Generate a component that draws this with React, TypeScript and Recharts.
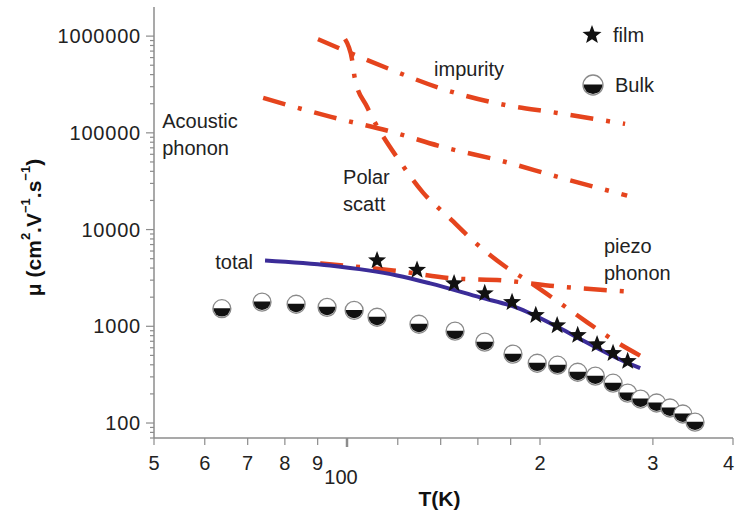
import React from "react";
import {
  ComposedChart,
  Line,
  Scatter,
  XAxis,
  YAxis,
  Legend,
  ReferenceDot,
  Label,
} from "recharts";

// values: temperature T (K) and mobility mu (cm2/V.s)
const bulkT = [63.8, 73.7, 83.3, 93.1, 102.6, 111.4, 129.5, 147.4, 164, 181.5, 198, 213, 229, 244, 260, 274, 287, 304, 319, 334, 349];
const bulkMu = [1520, 1780, 1690, 1570, 1460, 1240, 1050, 890, 685, 515, 415, 396, 335, 305, 258, 204, 177, 161, 143, 124, 102];

const filmT = [111.4, 128.6, 146.9, 164, 180.9, 197, 212.7, 229, 245.5, 260, 274];
const filmMu = [4790, 3820, 2770, 2190, 1770, 1300, 1020, 810, 650, 527, 436];

const totalT = [74.5, 94.1, 119.7, 134.8, 161.3, 183.5, 215, 233, 264, 286.6];
const totalMu = [4790, 4250, 3355, 2774, 1990, 1570, 953, 717, 468, 369];

const acousticT = [74, 94.4, 115.9, 142.7, 173.9, 212.7, 273.5];
const acousticMu = [229500, 146200, 104900, 70000, 51400, 35200, 22400];

const impurityT = [90.1, 115.4, 141, 173, 212.7, 271.5];
const impurityMu = [931000, 468000, 284000, 199000, 160700, 123800];

const polarT = [99.3, 101.8, 102.9, 107.5, 121.9, 131.4, 144.3, 157.8, 176.5, 193, 213, 237, 262, 289.5];
const polarMu = [931000, 579000, 360000, 185000, 46800, 24100, 13300, 7520, 4150, 2840, 1810, 1100, 700, 479];

const piezoT = [90.8, 118, 146.9, 175, 212.7, 273.5];
const piezoMu = [4460, 3780, 3125, 2980, 2585, 2295];

// tick marks
const xTicks = [50, 60, 70, 80, 90, 100, 120, 140, 160, 180, 200, 300, 400];
const xTickLabels: Record<number, string> = { 50: "5", 60: "6", 70: "7", 80: "8", 90: "9", 100: "100", 200: "2", 300: "3", 400: "4" };
const yMajor = [100, 1000, 10000, 100000, 1000000];
const yMinorSteps = [2, 3, 4, 5, 6, 7, 8, 9];
const yTicks = [70, 80, 90, ...yMajor, ...yMajor.slice(0, 4).flatMap((d) => yMinorSteps.map((s) => d * s))];

// annotations: [T, mu, lines]
const notes: [number, number, string[]][] = [
  [136.7, 457000, ["impurity"]],
  [51.5, 133000, ["Acoustic", "phonon"]],
  [98.6, 35200, ["Polar", "scatt"]],
  [62.3, 4570, ["total"]],
  [251.6, 6840, ["piezo", "phonon"]],
];

const pts = (T: number[], mu: number[]) => T.map((t, i) => ({ T: t, mu: mu[i] }));

const FONT = "'Liberation Sans', Arial, sans-serif";
const AXIS = "#8c8c8c";
const RED = "#e5441d";
const NAVY = "#3b2c98";
const DASH = "23 13 4 13";

const starPoints = (cx: number, cy: number, R: number, r: number) => {
  const p: string[] = [];
  for (let i = 0; i < 10; i++) {
    const a = -Math.PI / 2 + (i * Math.PI) / 5;
    const rad = i % 2 === 0 ? R : r;
    p.push(`${cx + rad * Math.cos(a)},${cy + rad * Math.sin(a)}`);
  }
  return p.join(" ");
};

const Star = ({ cx, cy, R = 9.5 }: any) => (
  <polygon points={starPoints(cx, cy, R, R * 0.42)} fill="#111" />
);

const Bulk = ({ cx, cy, r = 9 }: any) => (
  <g>
    <circle cx={cx} cy={cy} r={r} fill="#fff" stroke="#8a8a8a" strokeWidth={1.3} />
    <path d={`M${cx - r + 0.6},${cy - 0.5} A${r - 0.6},${r - 0.6} 0 0 0 ${cx + r - 0.6},${cy - 0.5} Z`} fill="#111" />
  </g>
);

const YTick = ({ x, y, payload }: any) => {
  const major = yMajor.includes(payload.value);
  return (
    <g>
      <line x1={x - (major ? 8 : 4)} x2={x} y1={y} y2={y} stroke={AXIS} strokeWidth={1.2} />
      {major && (
        <text x={x - 13} y={y} textAnchor="end" dominantBaseline="central" fontSize={20} fill="#222" fontFamily={FONT} letterSpacing={0.8}>
          {payload.value}
        </text>
      )}
    </g>
  );
};

const XTick = ({ x, y, payload }: any) => {
  const label = xTickLabels[payload.value];
  const hundred = payload.value === 100;
  const last = payload.value === 400;
  return (
    <g>
      <line x1={x} x2={x} y1={y} y2={y + (hundred ? 9 : 7)} stroke={AXIS} strokeWidth={hundred ? 2.5 : 1.2} />
      {label && (
        <text
          x={hundred ? x - 6 : last ? x + 1 : x}
          y={y + (hundred ? 39 : 25)}
          textAnchor={last ? "end" : "middle"}
          dominantBaseline="central"
          fontSize={20}
          fill="#222"
          fontFamily={FONT}
        >
          {label}
        </text>
      )}
    </g>
  );
};

const YTitle = ({ viewBox }: any) => {
  const cx = viewBox.x + 33;
  const cy = viewBox.y + viewBox.height / 2 + 5;
  return (
    <text x={cx} y={cy} transform={`rotate(-90, ${cx}, ${cy})`} textAnchor="middle" dominantBaseline="central" fontSize={21} fontWeight="bold" fill="#111" fontFamily={FONT}>
      μ (cm<tspan dy={-8} fontSize={13}>2</tspan>
      <tspan dy={8}>.V</tspan>
      <tspan dy={-8} fontSize={13}>−1</tspan>
      <tspan dy={8}>.s</tspan>
      <tspan dy={-8} fontSize={13}>−1</tspan>
      <tspan dy={8}>)</tspan>
    </text>
  );
};

const XTitle = ({ viewBox }: any) => (
  <text x={viewBox.x + viewBox.width / 2 - 4} y={viewBox.y + 60} textAnchor="middle" dominantBaseline="central" fontSize={21} fontWeight="bold" fill="#111" fontFamily={FONT}>
    T(K)
  </text>
);

const noteLabel = (lines: string[]) => ({ viewBox }: any) => (
  <text x={viewBox.x} y={viewBox.y} dominantBaseline="central" fontSize={20} fill="#222" fontFamily={FONT}>
    {lines.map((l, i) => (
      <tspan key={l} x={viewBox.x} dy={i === 0 ? 0 : 27}>
        {l}
      </tspan>
    ))}
  </text>
);

const LegendBox = ({ payload }: any) => {
  const order = ["film", "Bulk"];
  const items = (payload || []).filter((p: any) => order.includes(p.value)).sort((a: any, b: any) => order.indexOf(a.value) - order.indexOf(b.value));
  return (
    <svg width={110} height={90}>
      {items.map((it: any, i: number) => (
        <g key={it.value} transform={`translate(0, ${i * 50})`}>
          {it.value === "film" ? <Star cx={14} cy={15} R={10} /> : <Bulk cx={15} cy={15} r={10} />}
          <text x={it.value === "film" ? 35 : 37} y={15} dominantBaseline="central" fontSize={20} fill="#222" fontFamily={FONT}>
            {it.value}
          </text>
        </g>
      ))}
    </svg>
  );
};

export default function App() {
  return (
    <div style={{ position: "absolute", left: 0, top: 0, background: "#fff" }}>
      <ComposedChart width={735} height={512} margin={{ top: 7, right: 2, bottom: 0, left: 0 }}>
        <XAxis
          dataKey="T"
          type="number"
          scale="log"
          domain={[50, 400]}
          ticks={xTicks}
          interval={0}
          height={74}
          tickSize={0}
          tickMargin={0}
          tickLine={false}
          tick={<XTick />}
          axisLine={{ stroke: AXIS, strokeWidth: 1.5 }}
        >
          <Label content={<XTitle />} />
        </XAxis>
        <XAxis xAxisId="top" orientation="top" type="number" scale="log" domain={[50, 400]} height={0} tick={false} tickLine={false} axisLine={{ stroke: AXIS, strokeWidth: 1.8 }} />
        <YAxis
          dataKey="mu"
          type="number"
          scale="log"
          domain={[70, 2000000]}
          ticks={yTicks}
          interval={0}
          width={154}
          tickSize={0}
          tickMargin={0}
          tickLine={false}
          tick={<YTick />}
          axisLine={{ stroke: AXIS, strokeWidth: 1.5 }}
        >
          <Label content={<YTitle />} />
        </YAxis>
        <YAxis yAxisId="right" orientation="right" type="number" scale="log" domain={[70, 2000000]} width={0} tick={false} tickLine={false} axisLine={{ stroke: AXIS, strokeWidth: 1.8 }} />

        <Line data={pts(acousticT, acousticMu)} dataKey="mu" type="monotone" stroke={RED} strokeWidth={4.5} strokeDasharray={DASH} dot={false} activeDot={false} legendType="none" isAnimationActive={false} />
        <Line data={pts(impurityT, impurityMu)} dataKey="mu" type="monotone" stroke={RED} strokeWidth={4.5} strokeDasharray={DASH} dot={false} activeDot={false} legendType="none" isAnimationActive={false} />
        <Line data={pts(polarT, polarMu)} dataKey="mu" type="monotone" stroke={RED} strokeWidth={4.5} strokeDasharray={DASH} dot={false} activeDot={false} legendType="none" isAnimationActive={false} />
        <Line data={pts(piezoT, piezoMu)} dataKey="mu" type="monotone" stroke={RED} strokeWidth={4.5} strokeDasharray={DASH} dot={false} activeDot={false} legendType="none" isAnimationActive={false} />
        <Line data={pts(totalT, totalMu)} dataKey="mu" type="monotone" stroke={NAVY} strokeWidth={4} dot={false} activeDot={false} legendType="none" isAnimationActive={false} />

        <Scatter name="Bulk" data={pts(bulkT, bulkMu)} dataKey="mu" shape={<Bulk />} isAnimationActive={false} />
        <Scatter name="film" data={pts(filmT, filmMu)} dataKey="mu" shape={<Star />} isAnimationActive={false} />

        {notes.map(([t, mu, lines]) => (
          <ReferenceDot key={lines[0]} x={t} y={mu} r={0} fill="none" stroke="none" label={{ content: noteLabel(lines) }} />
        ))}

        <Legend
          layout="vertical"
          align="center"
          verticalAlign="middle"
          content={<LegendBox />}
          wrapperStyle={{ position: "absolute", left: 578, top: 20, width: 110, height: 90 }}
        />
      </ComposedChart>
    </div>
  );
}
